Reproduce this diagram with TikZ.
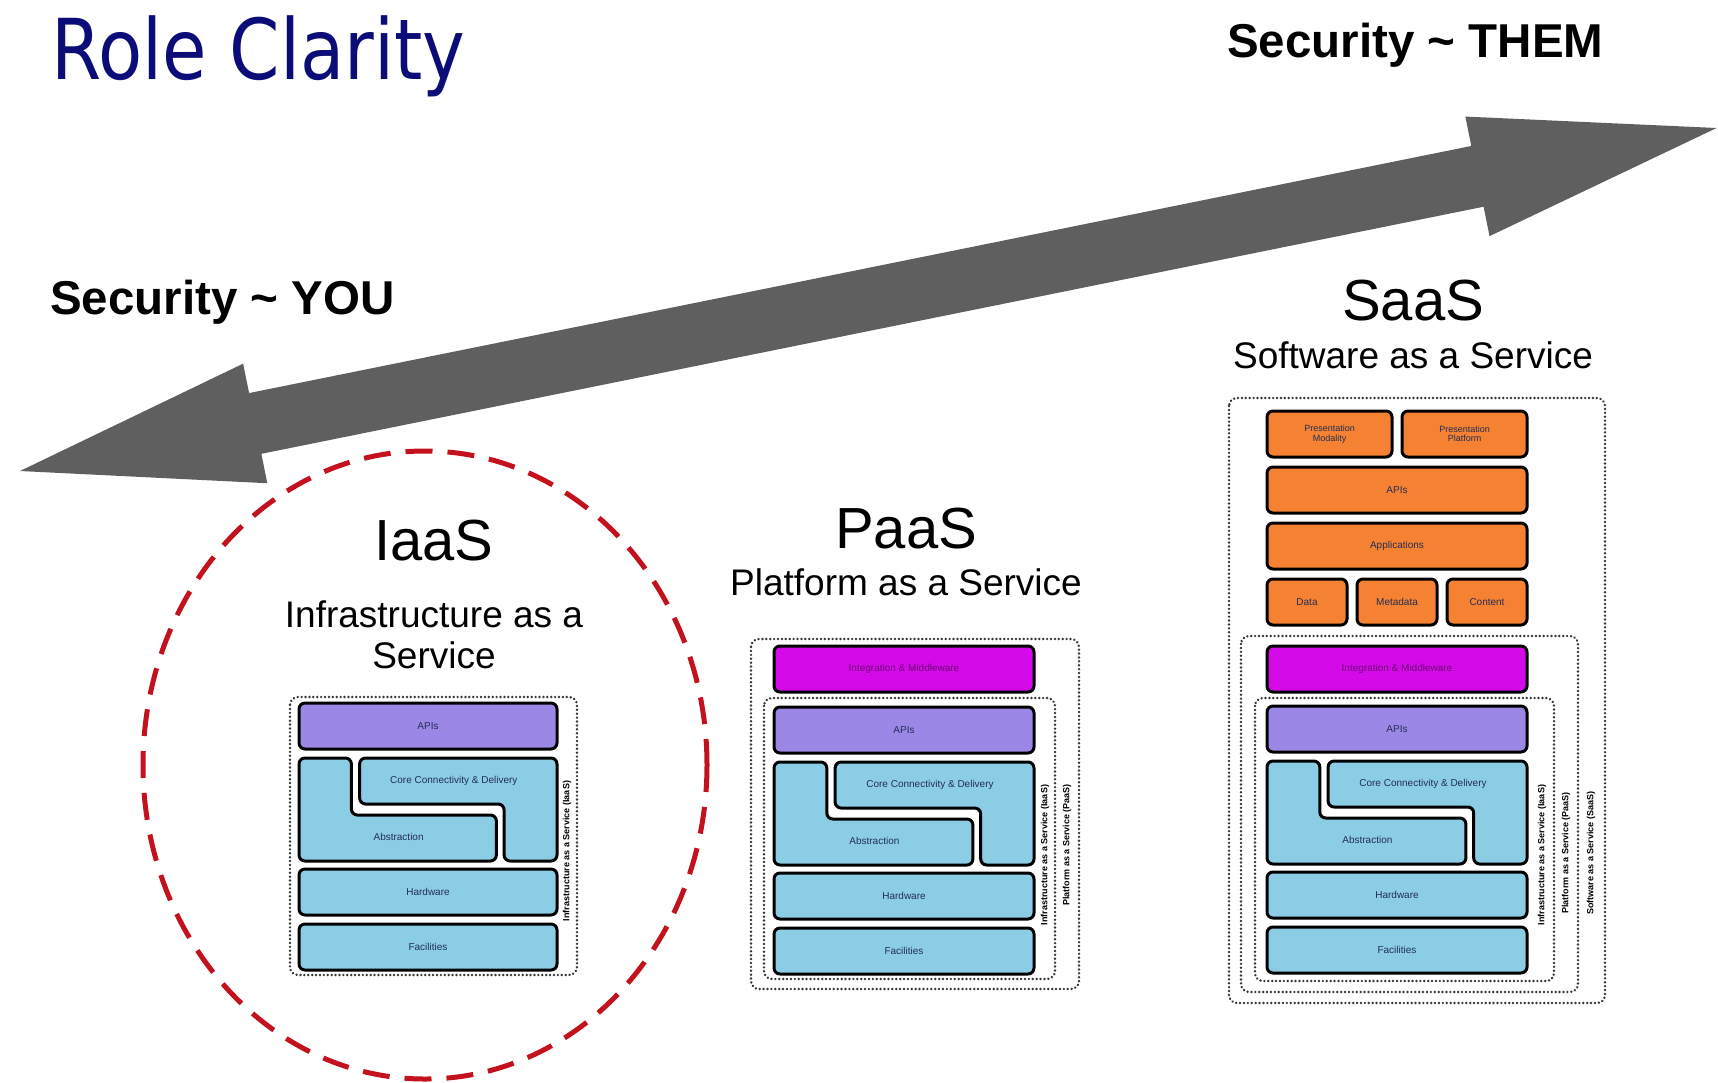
\documentclass[tikz,border=0pt]{standalone}
\usepackage{fontspec}
\setmainfont{Liberation Sans}
\newfontfamily\titlefont[FakeStretch=0.86]{DejaVu Sans}
\usetikzlibrary{calc}

\definecolor{titlenavy}{RGB}{12,12,120}
\definecolor{arrowgray}{RGB}{95,95,95}
\definecolor{ringred}{RGB}{195,18,30}
\definecolor{dotgray}{RGB}{55,55,55}
\definecolor{layerblue}{RGB}{140,205,230}
\definecolor{apipurple}{RGB}{155,135,230}
\definecolor{intmagenta}{RGB}{212,10,232}
\definecolor{saasorange}{RGB}{245,130,50}
\definecolor{blocktext}{RGB}{35,45,85}
\definecolor{inttext}{RGB}{110,0,120}

% #1 prefix, #2 left, #3 top, #4 width
\newcommand{\iaaslayers}[4]{%
  \node[stackblock,fill=apipurple,minimum width=#4] (#1api) at (#2+#4/2,#3+23) {APIs};
  \draw[stackblock,fill=layerblue] (#2,#3+55) -- (#2+0.203*#4,#3+55) -- (#2+0.203*#4,#3+112)
    -- (#2+0.765*#4,#3+112) -- (#2+0.765*#4,#3+158) -- (#2,#3+158) -- cycle;
  \draw[stackblock,fill=layerblue] (#2+0.235*#4,#3+55) -- (#2+#4,#3+55) -- (#2+#4,#3+158)
    -- (#2+0.795*#4,#3+158) -- (#2+0.795*#4,#3+101) -- (#2+0.235*#4,#3+101) -- cycle;
  \node[blocklabel] (#1core) at (#2+0.6*#4,#3+78) {Core Connectivity \& Delivery};
  \node[blocklabel] (#1abs) at (#2+0.386*#4,#3+134) {Abstraction};
  \node[stackblock,fill=layerblue,minimum width=#4] (#1hw) at (#2+#4/2,#3+189) {Hardware};
  \node[stackblock,fill=layerblue,minimum width=#4] (#1fac) at (#2+#4/2,#3+244) {Facilities};
}

\begin{document}
\begin{tikzpicture}[
x=1pt,y=-1pt,
stackblock/.style={
  draw=black,
  line width=3pt,
  rounded corners=6pt,
  minimum height=46,
  inner sep=0pt,
  font=\fontsize{10}{11}\selectfont,
  text=blocktext
},
blocklabel/.style={
  inner sep=0pt,
  font=\fontsize{10}{11}\selectfont,
  text=blocktext
},
dotbox/.style={
  draw=dotgray,
  line width=2.6pt,
  line cap=round,
  dash pattern=on 0.1pt off 3.8pt,
  rounded corners=8pt
},
sidelabel/.style={
  rotate=90,
  inner sep=0pt,
  font=\fontsize{9}{10}\selectfont\bfseries
},
stacktitle/.style={
  anchor=base,
  inner sep=0pt,
  font=\fontsize{58}{60}\selectfont
},
stacksub/.style={
  inner sep=0pt,
  align=center,
  font=\fontsize{37}{41}\selectfont
},
security/.style={
  anchor=base west,
  inner sep=0pt,
  font=\fontsize{47.5}{50}\selectfont\bfseries
}
]
\useasboundingbox (0,0) rectangle (1718,1082);

% ring round IaaS
\draw[ringred,line width=5pt,dash pattern=on 27pt off 15pt] 
  (425,765) ellipse [x radius=282, y radius=314];

% the double arrow
\coordinate (you) at (20,471);
\coordinate (them) at (1717,128);
\begin{scope}[shift={(you)},rotate=11.43]
\fill[arrowgray] (0,0) -- (240,-61) -- (240,-31) -- (1487,-31) -- (1487,-61)
  -- (1731,0) -- (1487,61) -- (1487,31) -- (240,31) -- (240,61) -- cycle;
\end{scope}

\node[anchor=base west,inner sep=0pt,text=titlenavy,
  font=\titlefont\fontsize{84}{90}\selectfont] 
  (title) at (51,79) {Role Clarity};
\node[security] (them label) at (1227,57) {Security \textasciitilde{} THEM};
\node[security] (you label) at (50,314) {Security \textasciitilde{} YOU};

% IaaS
\node[stacktitle] (iaastitle) at (434,560) {IaaS};
\node[stacksub] (iaassub) at (434,635) {Infrastructure as a\\Service};
\draw[dotbox] (290,697) rectangle (577,975);
\iaaslayers{iaas}{299}{703}{258}
\node[sidelabel] (iaasside) at (567,851) {Infrastructure as a Service (IaaS)};

% PaaS
\node[stacktitle] (paastitle) at (906,548) {PaaS};
\node[stacksub,anchor=base] (paassub) at (906,595) {Platform as a Service};
\draw[dotbox] (751,639) rectangle (1079,989);
\draw[dotbox] (764,698) rectangle (1055,979);
\node[stackblock,fill=intmagenta,text=inttext,minimum width=260] 
  (paasint) at (904,669) {Integration \& Middleware};
\iaaslayers{paas}{774}{707}{260}
\node[sidelabel] (paasside1) at (1045,855) {Infrastructure as a Service (IaaS)};
\node[sidelabel] (paasside2) at (1067,845) {Platform as a Service (PaaS)};

% SaaS
\node[stacktitle] (saastitle) at (1413,320) {SaaS};
\node[stacksub,anchor=base] (saassub) at (1413,368) {Software as a Service};
\draw[dotbox] (1229,398) rectangle (1605,1003);
\draw[dotbox] (1241,636) rectangle (1578,992);
\draw[dotbox] (1255,698) rectangle (1554,981);
\node[stackblock,fill=saasorange,minimum width=125,align=center,
  font=\fontsize{9}{9.5}\selectfont] (presmod) at (1329.5,434) {Presentation\\Modality};
\node[stackblock,fill=saasorange,minimum width=125,align=center,
  font=\fontsize{9}{9.5}\selectfont] (presplat) at (1464.5,434) {Presentation\\Platform};
\node[stackblock,fill=saasorange,minimum width=260] (appapi) at (1397,490) {APIs};
\node[stackblock,fill=saasorange,minimum width=260] (apps) at (1397,546) {Applications};
\node[stackblock,fill=saasorange,minimum width=80] (data) at (1307,602) {Data};
\node[stackblock,fill=saasorange,minimum width=80] (meta) at (1397,602) {Metadata};
\node[stackblock,fill=saasorange,minimum width=80] (content) at (1487,602) {Content};
\node[stackblock,fill=intmagenta,text=inttext,minimum width=260] 
  (saasint) at (1397,669) {Integration \& Middleware};
\iaaslayers{saas}{1267}{706}{260}
\node[sidelabel] (saasside1) at (1542,855) {Infrastructure as a Service (IaaS)};
\node[sidelabel] (saasside2) at (1566,853) {Platform as a Service (PaaS)};
\node[sidelabel] (saasside3) at (1591,853) {Software as a Service (SaaS)};
\end{tikzpicture}
\end{document}
